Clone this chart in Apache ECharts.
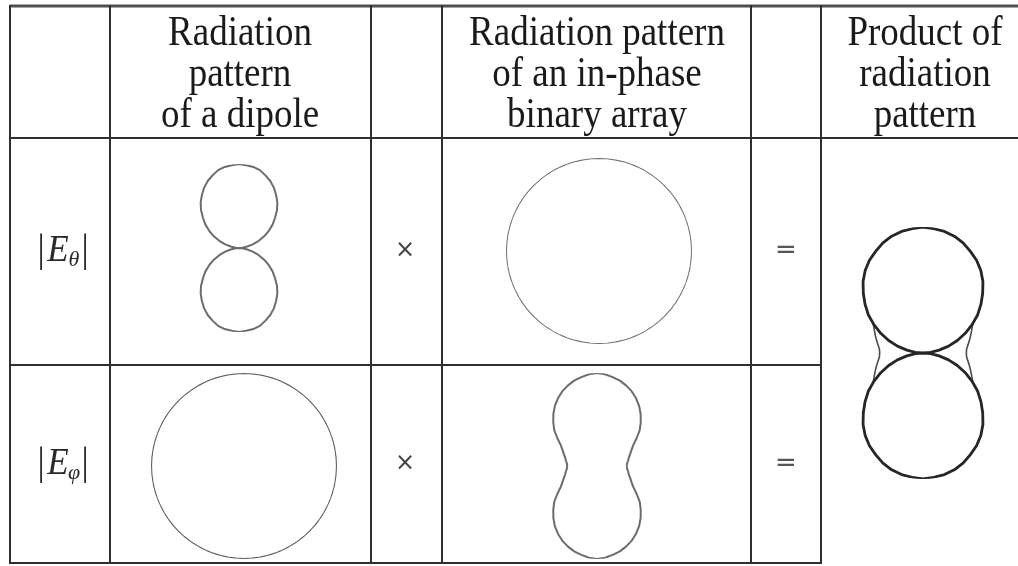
<!DOCTYPE html>
<html>
<head>
<meta charset="utf-8">
<script src="https://cdn.jsdelivr.net/npm/echarts@6/dist/echarts.min.js"></script>
<style>
  html, body { margin: 0; padding: 0; background: #fff; }
  #chart { width: 1018px; height: 566px; }
</style>
</head>
<body>
<div id="chart"></div>
<script>
// Sample angles (degrees, counter-clockwise from the +x axis)
const angles = [0,5,10,15,20,25,30,35,40,45,50,55,60,65,70,75,80,85,90,
  95,100,105,110,115,120,125,130,135,140,145,150,155,160,165,170,175,180,
  185,190,195,200,205,210,215,220,225,230,235,240,245,250,255,260,265,270,
  275,280,285,290,295,300,305,310,315,320,325,330,335,340,345,350,355,360];

// Normalised pattern radii, one value per sample angle
const dipoleTheta = [0,.04,.10,.17,.25,.33,.41,.49,.56,.64,.71,.77,.83,.88,.92,.96,.98,.99,1,
  .99,.98,.96,.92,.88,.83,.77,.71,.64,.56,.49,.41,.33,.25,.17,.10,.04,0,
  .04,.10,.17,.25,.33,.41,.49,.56,.64,.71,.77,.83,.88,.92,.96,.98,.99,1,
  .99,.98,.96,.92,.88,.83,.77,.71,.64,.56,.49,.41,.33,.25,.17,.10,.04,0];
const dipolePhi = [1,1,1,1,1,1,1,1,1,1,1,1,1,1,1,1,1,1,1,
  1,1,1,1,1,1,1,1,1,1,1,1,1,1,1,1,1,1,
  1,1,1,1,1,1,1,1,1,1,1,1,1,1,1,1,1,1,
  1,1,1,1,1,1,1,1,1,1,1,1,1,1,1,1,1,1];
const arrayTheta = [1,1,1,1,1,1,1,1,1,1,1,1,1,1,1,1,1,1,1,
  1,1,1,1,1,1,1,1,1,1,1,1,1,1,1,1,1,1,
  1,1,1,1,1,1,1,1,1,1,1,1,1,1,1,1,1,1,
  1,1,1,1,1,1,1,1,1,1,1,1,1,1,1,1,1,1];
const arrayPhi = [.32,.325,.34,.355,.38,.41,.45,.52,.60,.665,.73,.79,.84,.885,.92,.95,.97,.99,1,
  .99,.97,.95,.92,.885,.84,.79,.73,.665,.60,.52,.45,.41,.38,.355,.34,.325,.32,
  .325,.34,.355,.38,.41,.45,.52,.60,.665,.73,.79,.84,.885,.92,.95,.97,.99,1,
  .99,.97,.95,.92,.885,.84,.79,.73,.665,.60,.52,.45,.41,.38,.355,.34,.325,.32];
const productTheta = [0,.06,.13,.21,.29,.37,.45,.53,.60,.67,.74,.80,.85,.89,.93,.96,.98,.99,1,
  .99,.98,.96,.93,.89,.85,.80,.74,.67,.60,.53,.45,.37,.29,.21,.13,.06,0,
  .06,.13,.21,.29,.37,.45,.53,.60,.67,.74,.80,.85,.89,.93,.96,.98,.99,1,
  .99,.98,.96,.93,.89,.85,.80,.74,.67,.60,.53,.45,.37,.29,.21,.13,.06,0];
const productPhi = [.344,.347,.362,.381,.402,.426,.455,.53,.60,.67,.74,.80,.85,.89,.93,.96,.98,.99,1,
  .99,.98,.96,.93,.89,.85,.80,.74,.67,.60,.53,.455,.426,.402,.381,.362,.347,.344,
  .347,.362,.381,.402,.426,.455,.53,.60,.67,.74,.80,.85,.89,.93,.96,.98,.99,1,
  .99,.98,.96,.93,.89,.85,.80,.74,.67,.60,.53,.455,.426,.402,.381,.362,.347,.344];

// Table text
const headerDipole = ['Radiation', 'pattern', 'of a dipole'];
const headerArray = ['Radiation pattern', 'of an in-phase', 'binary array'];
const headerProduct = ['Product of', 'radiation', 'pattern'];
const rowSubscripts = ['\u03b8', '\u03c6'];
const timesSign = '\u00d7';
const equalsSign = '=';

const chart = echarts.init(document.getElementById('chart'), null, { renderer: 'canvas' });

// Table geometry
const colX = [10, 110, 371, 442, 751, 821, 1018];
const rowY = [6, 138, 365, 563];
const serif = '"Liberation Serif", "DejaVu Serif", serif';
const gridColor = '#303030';

const graphics = [];
function hLine(x1, x2, y, w, c) {
  graphics.push({ type: 'line', shape: { x1, y1: y, x2, y2: y },
    style: { stroke: c || gridColor, lineWidth: w || 2 }, silent: true });
}
function vLine(x, y1, y2, w) {
  graphics.push({ type: 'line', shape: { x1: x, y1, x2: x, y2 },
    style: { stroke: gridColor, lineWidth: w || 2 }, silent: true });
}
function text(str, x, y, opts) {
  const o = opts || {};
  graphics.push({ type: 'text', x, y, silent: true,
    scaleY: o.scaleY || 1,
    style: { text: str, fontFamily: o.family || serif, fontSize: o.size || 37,
      fontStyle: o.italic ? 'italic' : 'normal',
      fill: o.fill || '#1a1a1a', align: 'center', verticalAlign: 'middle' } });
}

hLine(colX[0], colX[6], rowY[0], 3, '#505050');
hLine(colX[0], colX[6], rowY[1], 2);
hLine(colX[0], colX[5], rowY[2], 2);
hLine(colX[0], colX[5], rowY[3], 2);
for (let i = 0; i < 6; i++) vLine(colX[i], rowY[0] - 1, rowY[3] + 1);

const lineYs = [34, 75, 116];
const head = { scaleY: 1.15 };
headerDipole.forEach((s, i) => text(s, 240, lineYs[i], head));
headerArray.forEach((s, i) => text(s, 597, lineYs[i], head));
headerProduct.forEach((s, i) => text(s, 925, lineYs[i], head));

// Row labels |E_theta| and |E_phi|, operators between the columns
[251, 464].forEach((cy, i) => {
  text('|', 41, cy, { size: 36, fill: '#2a2a2a', scaleY: 1.1 });
  text('E', 58, cy, { size: 35, italic: true, fill: '#2a2a2a', scaleY: 1.1 });
  text(rowSubscripts[i], 74, cy + 9, { size: 22, italic: true, fill: '#2a2a2a' });
  text('|', 85, cy, { size: 36, fill: '#2a2a2a', scaleY: 1.1 });
  text(timesSign, 405, cy, { size: 24, fill: '#444', family: 'DejaVu Sans' });
  text(equalsSign, 786, cy, { size: 26, fill: '#555', family: 'DejaVu Sans' });
});

// One polar system per pattern cell: [cx, cy, radius in px]
const cells = [
  [239, 248, 84],   // dipole, E_theta
  [244, 466, 93],   // dipole, E_phi
  [599, 251, 93],   // array, E_theta
  [597, 466, 93],   // array, E_phi
  [923, 353, 126]   // product
];
const polar = cells.map(c => ({ center: [c[0], c[1]], radius: c[2] }));
const hidden = { axisLine: { show: false }, axisTick: { show: false },
  axisLabel: { show: false }, splitLine: { show: false } };
const angleAxis = cells.map((c, i) => Object.assign({ polarIndex: i, type: 'value',
  min: 0, max: 360, startAngle: 0, clockwise: false }, hidden));
const radiusAxis = cells.map((c, i) => Object.assign({ polarIndex: i, type: 'value',
  min: 0, max: 1 }, hidden));

function curve(radii, polarIndex, color, width, z) {
  return { type: 'line', coordinateSystem: 'polar', polarIndex,
    data: radii.map((r, i) => [r, angles[i]]),
    symbol: 'none', smooth: false, silent: true, z: z || 2,
    lineStyle: { color, width } };
}

chart.setOption({
  animation: false,
  backgroundColor: '#ffffff',
  polar, angleAxis, radiusAxis,
  series: [
    curve(dipoleTheta, 0, '#6c6c6c', 2),
    curve(dipolePhi, 1, '#5e5e5e', 2.2),
    curve(arrayTheta, 2, '#6c6c6c', 2),
    curve(arrayPhi, 3, '#6c6c6c', 2),
    curve(productPhi, 4, '#4a4a4a', 1.6, 2),
    curve(productTheta, 4, '#262626', 2.8, 3)
  ],
  graphic: graphics
});
</script>
</body>
</html>
